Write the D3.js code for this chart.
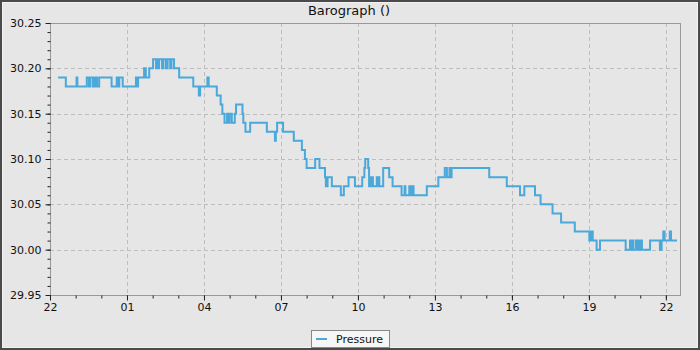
<!DOCTYPE html>
<html>
<head>
<meta charset="utf-8">
<script src="https://cdn.jsdelivr.net/npm/d3@7"></script>
<style>
  html, body { margin: 0; padding: 0; background: #e6e6e6; }
  svg { display: block; font-family: "DejaVu Sans", sans-serif; }
</style>
</head>
<body>
<script>
// ---- DATA ----
const title = "Barograph ()";
const seriesName = "Pressure";
// minutes after 22:00 of the first day, at which each reading begins
const minutes = [19,37,62,64,86,91,94,100,103,105,108,110,115,144,156,160,162,170,201,203,206,220,224,232,241,248,250,252,255,262,265,271,275,281,284,290,302,335,348,351,368,371,390,399,403,408,414,416,420,425,432,435,450,452,457,468,507,526,528,531,545,570,589,596,600,620,630,643,645,649,659,680,687,698,713,730,735,737,744,746,748,750,753,755,764,767,769,770,779,793,801,822,829,831,840,843,847,850,881,908,923,928,934,937,939,1027,1068,1099,1109,1134,1147,1175,1195,1227,1261,1262,1265,1267,1269,1278,1286,1346,1356,1358,1362,1364,1370,1372,1375,1378,1380,1384,1403,1426,1430,1434,1437,1449,1452,1466];
const pressure = [30.19,30.18,30.19,30.18,30.19,30.18,30.19,30.18,30.19,30.18,30.19,30.18,30.19,30.18,30.19,30.18,30.19,30.18,30.19,30.18,30.19,30.20,30.19,30.20,30.21,30.20,30.21,30.20,30.21,30.20,30.21,30.20,30.21,30.20,30.21,30.20,30.19,30.18,30.17,30.18,30.19,30.18,30.17,30.16,30.15,30.14,30.15,30.14,30.15,30.14,30.15,30.16,30.15,30.14,30.13,30.14,30.13,30.12,30.13,30.14,30.13,30.12,30.11,30.10,30.09,30.10,30.09,30.08,30.07,30.08,30.07,30.06,30.07,30.08,30.07,30.08,30.09,30.10,30.09,30.07,30.08,30.07,30.08,30.07,30.08,30.07,30.08,30.07,30.09,30.08,30.07,30.06,30.07,30.06,30.07,30.06,30.07,30.06,30.07,30.08,30.09,30.08,30.09,30.08,30.09,30.08,30.07,30.06,30.07,30.06,30.05,30.04,30.03,30.02,30.01,30.02,30.01,30.02,30.01,30.00,30.01,30.00,30.01,30.00,30.01,30.00,30.01,30.00,30.01,30.00,30.01,30.00,30.01,30.00,30.01,30.02,30.01,30.02,30.01,30.01];
const yDomain = [29.95, 30.25];
const yTicks = [29.95, 30.00, 30.05, 30.10, 30.15, 30.20, 30.25];
const domainMinutes = [0, 1473];
const startDate = new Date(2024, 0, 1, 22, 0, 0);

// ---- CHART ----
const W = 700, H = 350;
const M = { left: 50, right: 20, top: 23, bottom: 55 };
const svg = d3.select("body").append("svg").attr("width", W).attr("height", H);

svg.append("rect").attr("x", 1).attr("y", 1).attr("width", W - 2).attr("height", H - 2)
  .attr("fill", "#e6e6e6").attr("stroke", "#4a4a4a").attr("stroke-width", 2);
svg.append("rect").attr("x", 2.5).attr("y", 2.5).attr("width", W - 5).attr("height", H - 5)
  .attr("fill", "none").attr("stroke", "#f2f2f2").attr("stroke-width", 1);

const toDate = m => new Date(startDate.getTime() + m * 60000);
const data = minutes.map((m, i) => ({ t: toDate(m), v: pressure[i] }));

const x = d3.scaleTime().domain(domainMinutes.map(toDate)).range([M.left, W - M.right]);
const y = d3.scaleLinear().domain(yDomain).range([H - M.bottom, M.top]);

const endDate = toDate(domainMinutes[1]);
const minorX = d3.timeHour.range(startDate, endDate, 1);
const majorX = minorX.filter((d, i) => i % 3 === 0);
const minorY = d3.range(0, 31).map(i => +(yDomain[0] + i * 0.01).toFixed(2));

// grid
const grid = svg.append("g").attr("stroke", "#bdbdbd").attr("stroke-width", 1)
  .attr("stroke-dasharray", "4,3").attr("fill", "none");
grid.selectAll("line.gx").data(majorX).join("line")
  .attr("x1", d => Math.round(x(d)) + 0.5).attr("x2", d => Math.round(x(d)) + 0.5)
  .attr("y1", M.top).attr("y2", H - M.bottom);
grid.selectAll("line.gy").data(yTicks).join("line")
  .attr("y1", d => Math.round(y(d)) + 0.5).attr("y2", d => Math.round(y(d)) + 0.5)
  .attr("x1", M.left).attr("x2", W - M.right);

// frame
svg.append("rect").attr("x", M.left + 0.5).attr("y", M.top + 0.5)
  .attr("width", W - M.right - M.left).attr("height", H - M.bottom - M.top)
  .attr("fill", "none").attr("stroke", "#999").attr("stroke-width", 1);

// line
const line = d3.line().x(d => x(d.t)).y(d => y(d.v)).curve(d3.curveStepAfter);
svg.append("path").datum(data).attr("d", line)
  .attr("fill", "none").attr("stroke", "#4aa8da").attr("stroke-width", 2)
  .attr("stroke-linejoin", "miter");

// axes
const fmtH = d3.timeFormat("%H");
const xAxis = svg.append("g").attr("transform", `translate(0,${H - M.bottom + 0.5})`);
xAxis.call(d3.axisBottom(x).tickValues(minorX).tickSize(3).tickFormat(""));
xAxis.call(g => g.select(".domain").remove());
const xAxisMaj = svg.append("g").attr("transform", `translate(0,${H - M.bottom + 0.5})`)
  .call(d3.axisBottom(x).tickValues(majorX).tickSize(5).tickPadding(3).tickFormat(fmtH));
xAxisMaj.select(".domain").remove();

const yAxis = svg.append("g").attr("transform", `translate(${M.left + 0.5},0)`);
yAxis.call(d3.axisLeft(y).tickValues(minorY).tickSize(3).tickFormat(""));
yAxis.call(g => g.select(".domain").remove());
const yAxisMaj = svg.append("g").attr("transform", `translate(${M.left + 0.5},0)`)
  .call(d3.axisLeft(y).tickValues(yTicks).tickSize(5).tickPadding(4).tickFormat(d3.format(".2f")));
yAxisMaj.select(".domain").remove();

svg.selectAll(".tick line").attr("stroke", "#222");
svg.selectAll(".tick text").attr("fill", "#111").style("font-size", "11px")
  .style("font-family", "DejaVu Sans, sans-serif");

// title
svg.append("text").attr("x", 349).attr("y", 15).attr("text-anchor", "middle")
  .style("font-size", "13px").attr("fill", "#111").text(title);

// legend
const lg = svg.append("g");
lg.append("rect").attr("x", 311.5).attr("y", 330.5).attr("width", 78).attr("height", 17)
  .attr("fill", "#f6f6f6").attr("stroke", "#888");
lg.append("line").attr("x1", 316).attr("x2", 327).attr("y1", 339).attr("y2", 339)
  .attr("stroke", "#4aa8da").attr("stroke-width", 2);
lg.append("text").attr("x", 336).attr("y", 343).style("font-size", "11px")
  .attr("fill", "#111").text(seriesName);
</script>
</body>
</html>
